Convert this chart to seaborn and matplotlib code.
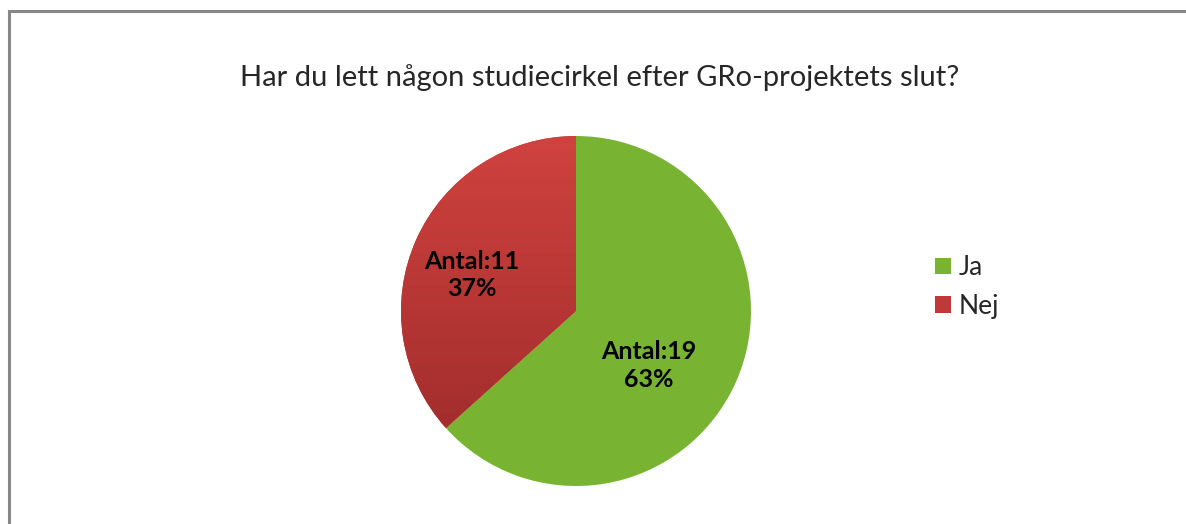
import numpy as np
import matplotlib.pyplot as plt
import seaborn as sns
from matplotlib.colors import LinearSegmentedColormap
from matplotlib.patches import Rectangle, Patch

# Data
answers = ['Ja', 'Nej']
counts = [19, 11]
colors = ['#78b432', '#c0393a']
title = 'Har du lett någon studiecirkel efter GRo-projektets slut?'

# "best fit" placement of the value labels: distance from centre and angle nudge
label_dist = [0.52, 0.63]
label_turn = [-12.5, 5.0]

sns.set_theme(style='white')
plt.rcParams['font.family'] = ['Lato', 'DejaVu Sans']

W, H = 1186, 524
fig = plt.figure(figsize=(W / 100, H / 100), dpi=100)

# grey chart-area frame (only top and left edge visible in the crop)
fig.patches.append(Rectangle((8.5 / W, -0.1), 1.2, (1 - 11.5 / H) + 0.1,
                             transform=fig.transFigure, fill=False,
                             ec='#878787', lw=2.2))

fig.text(600 / W, 1 - 78 / H, title, ha='center', va='center', fontsize=21)

# pie axes: centre (576, 311), radius 175 px
ax = fig.add_axes([(576 - 175) / W, (H - 311 - 175) / H, 350 / W, 350 / H])

total = sum(counts)
wedges, texts, autotexts = ax.pie(
    counts, colors=colors, startangle=90, counterclock=False,
    autopct=lambda p: 'Antal:{}\n{:.0f}%'.format(int(round(p * total / 100)), p),
    textprops=dict(fontsize=18, fontweight='bold', color='black',
                   linespacing=1.25),
    wedgeprops=dict(linewidth=0))

for w, t, d, turn in zip(wedges, autotexts, label_dist, label_turn):
    ang = np.deg2rad((w.theta1 + w.theta2) / 2 + turn)
    t.set_position((d * np.cos(ang), d * np.sin(ang)))
    t.set_zorder(5)

# vertical gradient on the red slice
red_cmap = LinearSegmentedColormap.from_list('red_grad', ['#d0423f', '#9a2a29'])
grad = np.linspace(0, 1, 256).reshape(-1, 1)
im = ax.imshow(grad, extent=[-1, 1, -1, 1], cmap=red_cmap, origin='upper',
               aspect='auto', zorder=2)
im.set_clip_path(wedges[1])
ax.set_xlim(-1, 1)
ax.set_ylim(-1, 1)
ax.set_aspect('equal')
ax.axis('off')

handles = [Patch(facecolor=c, edgecolor='none') for c in colors]
fig.legend(handles, answers, loc='center left',
           bbox_to_anchor=(911 / W, 1 - 287 / H), frameon=False,
           fontsize=19, handlelength=0.6, handleheight=0.6,
           handletextpad=0.3, labelspacing=0.5)

fig.savefig('out.png', dpi=100)
